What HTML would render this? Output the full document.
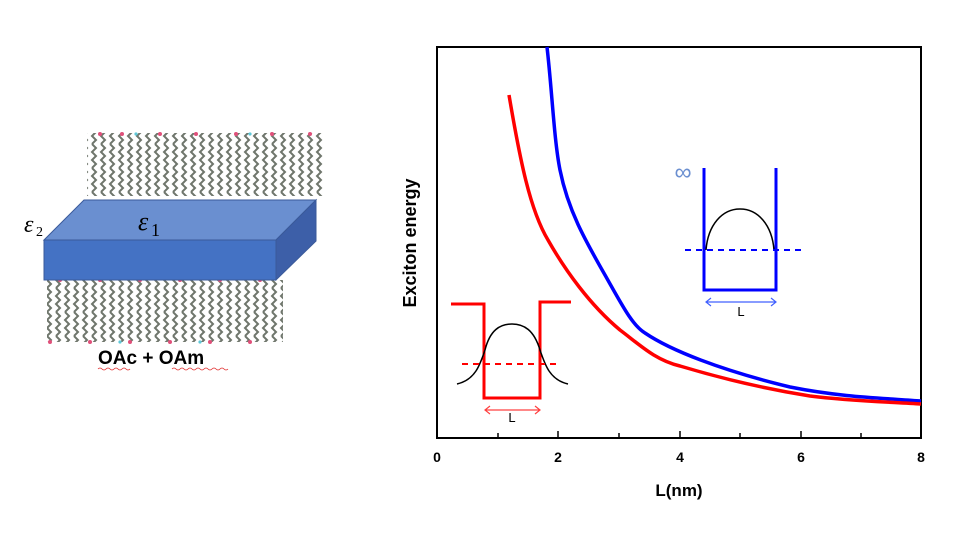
<!DOCTYPE html>
<html><head><meta charset="utf-8"><style>
body{margin:0;background:#fff;width:958px;height:540px;overflow:hidden}
</style></head><body>
<svg width="958" height="540" viewBox="0 0 958 540" xmlns="http://www.w3.org/2000/svg" font-family="Liberation Sans, Arial, sans-serif">
<defs>
<pattern id="zz" x="0" y="0" width="9" height="24" patternUnits="userSpaceOnUse">
<polyline points="2,0 6,4 2,8 6,12 2,16 6,20 2,24" fill="none" stroke="#6f766c" stroke-width="2"/>
</pattern>
</defs>
<!-- ligands -->
<rect x="87" y="133" width="236" height="63" fill="url(#zz)"/>
<rect x="47" y="280" width="236" height="62" fill="url(#zz)"/>
<g fill="#e0507a">
<circle cx="100" cy="134" r="2"/><circle cx="122" cy="134" r="2"/><circle cx="160" cy="134" r="2"/><circle cx="196" cy="134" r="2"/><circle cx="236" cy="134" r="2"/><circle cx="272" cy="134" r="2"/><circle cx="310" cy="134" r="2"/>
<circle cx="60" cy="280" r="2"/><circle cx="100" cy="280" r="2"/><circle cx="140" cy="280" r="2"/><circle cx="180" cy="280" r="2"/><circle cx="220" cy="280" r="2"/><circle cx="260" cy="280" r="2"/>
<circle cx="50" cy="342" r="2"/><circle cx="90" cy="342" r="2"/><circle cx="130" cy="342" r="2"/><circle cx="170" cy="342" r="2"/><circle cx="210" cy="342" r="2"/><circle cx="250" cy="342" r="2"/>
</g>
<g fill="#60c8d8"><circle cx="136" cy="134" r="1.6"/><circle cx="250" cy="134" r="1.6"/><circle cx="120" cy="342" r="1.6"/><circle cx="200" cy="342" r="1.6"/></g>
<!-- slab -->
<polygon points="44,240 84,200 316,200 276,240" fill="#6a8fd0" stroke="#3a5a9a" stroke-width="1"/>
<polygon points="276,240 316,200 316,241 276,280" fill="#3d5fa8" stroke="#3a5a9a" stroke-width="1"/>
<rect x="44" y="240" width="232" height="40" fill="#4472c4" stroke="#3a5a9a" stroke-width="1"/>
<text x="24" y="232" font-family="Liberation Serif, serif" font-style="italic" font-size="24">ε</text>
<text x="36" y="236" font-family="Liberation Serif, serif" font-size="14">2</text>
<text x="138" y="230" font-family="Liberation Serif, serif" font-style="italic" font-size="26">ε</text>
<text x="151" y="236" font-family="Liberation Serif, serif" font-size="18">1</text>
<text x="98" y="364" font-size="19" font-weight="bold">OAc + OAm</text>
<path d="M98 369 q2 -2 4 0 t4 0 t4 0 t4 0 t4 0 t4 0 t4 0 t4 0" fill="none" stroke="#e03030" stroke-width="0.8"/>
<path d="M172 369 q2 -2 4 0 t4 0 t4 0 t4 0 t4 0 t4 0 t4 0 t4 0 t4 0 t4 0 t4 0 t4 0 t4 0 t4 0" fill="none" stroke="#e03030" stroke-width="0.8"/>
<!-- axes -->
<rect x="437" y="47" width="484" height="391" fill="none" stroke="#000" stroke-width="2"/>
<g stroke="#000" stroke-width="1.5">
<line x1="498" y1="438" x2="498" y2="433"/><line x1="558" y1="438" x2="558" y2="431"/><line x1="619" y1="438" x2="619" y2="433"/><line x1="680" y1="438" x2="680" y2="431"/><line x1="740" y1="438" x2="740" y2="433"/><line x1="801" y1="438" x2="801" y2="431"/><line x1="861" y1="438" x2="861" y2="433"/>
</g>
<g font-size="14" font-weight="bold" text-anchor="middle">
<text x="437" y="462">0</text><text x="558" y="462">2</text><text x="680" y="462">4</text><text x="801" y="462">6</text><text x="921" y="462">8</text>
</g>
<text x="679" y="496" font-size="17" font-weight="bold" text-anchor="middle">L(nm)</text>
<text transform="translate(416,243) rotate(-90)" font-size="18" font-weight="bold" text-anchor="middle">Exciton energy</text>
<!-- curves -->
<path d="M547 47 C552 90 554 140 560 170 C568 210 585 240 605 275 C622 305 632 325 645 333 C670 350 720 370 790 387 C840 397 880 398 921 401" fill="none" stroke="#0000ff" stroke-width="3.5"/>
<path d="M509 95 C520 160 530 210 548 240 C565 270 590 305 620 330 C640 345 655 360 680 366 C720 378 760 388 810 396 C850 401 890 402 921 404" fill="none" stroke="#ff0000" stroke-width="3.5"/>
<!-- red inset -->
<polyline points="451,304 484,304 484,398 540,398 540,302 571,302" fill="none" stroke="#ff0000" stroke-width="3"/>
<path d="M457 384 C475 380 480 365 485 350 C490 330 500 324 512 324 C524 324 534 330 540 350 C545 365 550 380 568 384" fill="none" stroke="#000" stroke-width="1.5"/>
<line x1="462" y1="364" x2="556" y2="364" stroke="#ff0000" stroke-width="2" stroke-dasharray="6,5"/>
<path d="M485 410 L540 410 M490 406 L485 410 L490 414 M535 406 L540 410 L535 414" fill="none" stroke="#ff4040" stroke-width="1.2"/>
<text x="512" y="422" font-size="13" text-anchor="middle">L</text>
<!-- blue inset -->
<polyline points="704,168 704,290 776,290 776,168" fill="none" stroke="#0000ff" stroke-width="3"/>
<path d="M706 250 C708 225 722 209 740 209 C758 209 772 225 774 250" fill="none" stroke="#000" stroke-width="1.5"/>
<line x1="685" y1="250" x2="803" y2="250" stroke="#0000ff" stroke-width="2" stroke-dasharray="6,5"/>
<path d="M706 302 L776 302 M711 298 L706 302 L711 306 M771 298 L776 302 L771 306" fill="none" stroke="#4060ff" stroke-width="1.2"/>
<text x="741" y="316" font-size="13" text-anchor="middle">L</text>
<text x="683" y="180" font-size="24" fill="#6b8fd0" text-anchor="middle">∞</text>
</svg>
</body></html>
